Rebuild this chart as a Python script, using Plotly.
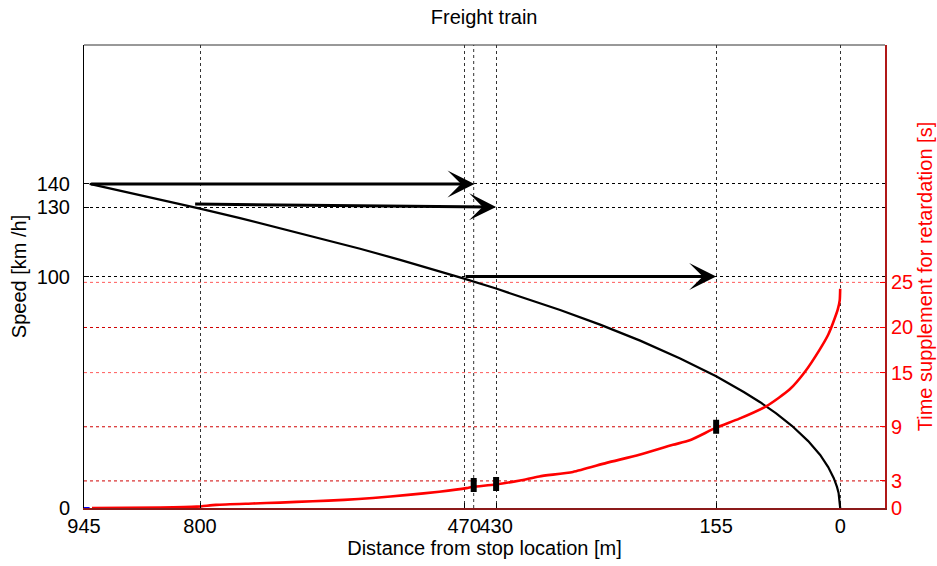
import plotly.graph_objects as go

# Speed profile of the braking freight train (distance to stop [m], speed [km/h])
speed_dist = [938, 900, 850, 800, 750, 700, 650, 600, 550, 500, 470, 430, 400, 350,
              300, 250, 200, 155, 120, 100, 80, 60, 40, 25, 15, 8, 4, 2, 0]
speed_kmh = [140, 137.1, 133.3, 129.3, 125.2, 120.9, 116.5, 112.0, 107.2, 102.2, 99.1,
             94.8, 91.4, 85.5, 79.2, 72.3, 64.6, 56.9, 50.0, 45.7, 40.9, 35.4, 28.9,
             22.9, 17.7, 12.9, 9.1, 6.5, 0]

# Accumulated time supplement for retardation [s]
supp_dist = [935, 850, 804, 780, 734, 700, 659, 620, 584, 540, 501, 467, 459, 431, 400,
             376, 334, 292, 251, 209, 188, 155, 126, 92, 63, 44, 26, 15, 9, 3, 0.6, 0]
supp_sec = [0, 0.05, 0.15, 0.35, 0.5, 0.6, 0.75, 0.9, 1.1, 1.45, 1.8, 2.2, 2.35, 2.6,
            3.05, 3.5, 4.0, 5.0, 5.9, 7.0, 7.5, 8.9, 9.9, 11.3, 13.15, 15.1, 17.5,
            19.2, 20.5, 22.0, 23.0, 24.3]

# Marked points on the supplement curve
mark_dist = [458, 430, 155]
mark_sec = [2.55, 2.66, 9.0]

# Speed-reduction arrows: (from distance, from speed, to distance, to speed)
arrows = [(938, 140, 457, 140), (808, 131.3, 430, 130), (470, 100, 155, 100)]

x_ticks = [945, 800, 470, 430, 155, 0]
extra_grid_x = [458]
speed_ticks = [0, 100, 130, 140]
supp_ticks = [0, 3, 9, 15, 20, 25]
supp_ticks_light = [15, 25]

RED = "#ff0000"
FONT = "Liberation Sans, Arial, sans-serif"

fig = go.Figure()

fig.add_trace(go.Scatter(x=[945, 938], y=[0, 0], mode="lines", yaxis="y2",
                         line=dict(color="blue", width=2), showlegend=False,
                         hoverinfo="skip"))
fig.add_trace(go.Scatter(x=supp_dist, y=supp_sec, mode="lines", yaxis="y2",
                         line=dict(color=RED, width=2.6, shape="spline", smoothing=0.6),
                         showlegend=False))
fig.add_trace(go.Scatter(x=speed_dist, y=speed_kmh, mode="lines", yaxis="y",
                         line=dict(color="black", width=2.2), showlegend=False))
fig.add_trace(go.Scatter(x=mark_dist, y=mark_sec, mode="markers", yaxis="y2",
                         marker=dict(symbol="line-ns", size=10,
                                     line=dict(color="black", width=6)),
                         showlegend=False))

shapes = []
# extra vertical grid line without a tick label
for gx in extra_grid_x:
    shapes.append(dict(type="line", xref="x", yref="paper", x0=gx, x1=gx, y0=0, y1=1,
                       line=dict(color="#333", width=1, dash="dot"), layer="below"))
# red grid lines of the supplement axis
for gy in supp_ticks_light:
    shapes.append(dict(type="line", xref="paper", yref="y2", x0=0, x1=1, y0=gy, y1=gy,
                       line=dict(color="#ff5a5a", width=1, dash="dot"), layer="below"))
for gy in [t for t in supp_ticks if t not in supp_ticks_light and t != 0]:
    shapes.append(dict(type="line", xref="paper", yref="y2", x0=0, x1=1, y0=gy, y1=gy,
                       line=dict(color="#d00000", width=1, dash="dot"), layer="below"))
# top border
shapes.append(dict(type="line", xref="paper", yref="paper", x0=0, x1=1, y0=1, y1=1,
                   line=dict(color="#333", width=1)))

annotations = []
for (x0, y0, x1, y1) in arrows:
    annotations.append(dict(x=x1, y=y1, ax=x0, ay=y0, xref="x", yref="y",
                            axref="x", ayref="y", showarrow=True, arrowhead=3,
                            arrowwidth=3, arrowsize=1.5, arrowcolor="black",
                            standoff=0, startstandoff=0, text=""))

fig.update_layout(
    width=937, height=566,
    margin=dict(l=84, r=52, t=45, b=58, autoexpand=False),
    paper_bgcolor="white", plot_bgcolor="white",
    font=dict(family=FONT, size=20, color="black"),
    title=dict(text="Freight train", x=0.5167, xanchor="center", y=0.97,
               yanchor="middle", font=dict(size=20, family=FONT)),
    xaxis=dict(range=[945, -56], tickmode="array", tickvals=x_ticks,
               ticktext=[str(v) for v in x_ticks], tickangle=0, showgrid=True,
               gridcolor="#333", griddash="dot", gridwidth=1, zeroline=False,
               showline=True, linecolor="#8b1a1a", linewidth=2, automargin=False,
               ticks="inside", ticklen=5, tickcolor="black",
               tickfont=dict(size=20), ticklabelstandoff=-1,
               title=dict(text="Distance from stop location [m]", standoff=5,
                          font=dict(size=20))),
    yaxis=dict(range=[0, 200], tickmode="array", tickvals=speed_ticks,
               showgrid=True, gridcolor="black", griddash="dot", gridwidth=1,
               zeroline=False, showline=True, linecolor="black", linewidth=1,
               automargin=False, ticks="inside", ticklen=5, tickcolor="black",
               tickfont=dict(size=20), ticklabelstandoff=9,
               title=dict(text="Speed [km /h]", standoff=4, font=dict(size=20))),
    yaxis2=dict(range=[0, 51.3], overlaying="y", side="right", tickmode="array",
                tickvals=supp_ticks, showgrid=False, zeroline=False,
                showline=True, linecolor="#b01818", linewidth=2, automargin=False,
                ticks="inside", ticklen=5, tickcolor=RED,
                tickfont=dict(color=RED, size=20),
                title=dict(text="Time supplement for retardation [s]", standoff=6,
                           font=dict(color=RED, size=20))),
    shapes=shapes,
    annotations=annotations,
)

fig.write_html("out.html")
